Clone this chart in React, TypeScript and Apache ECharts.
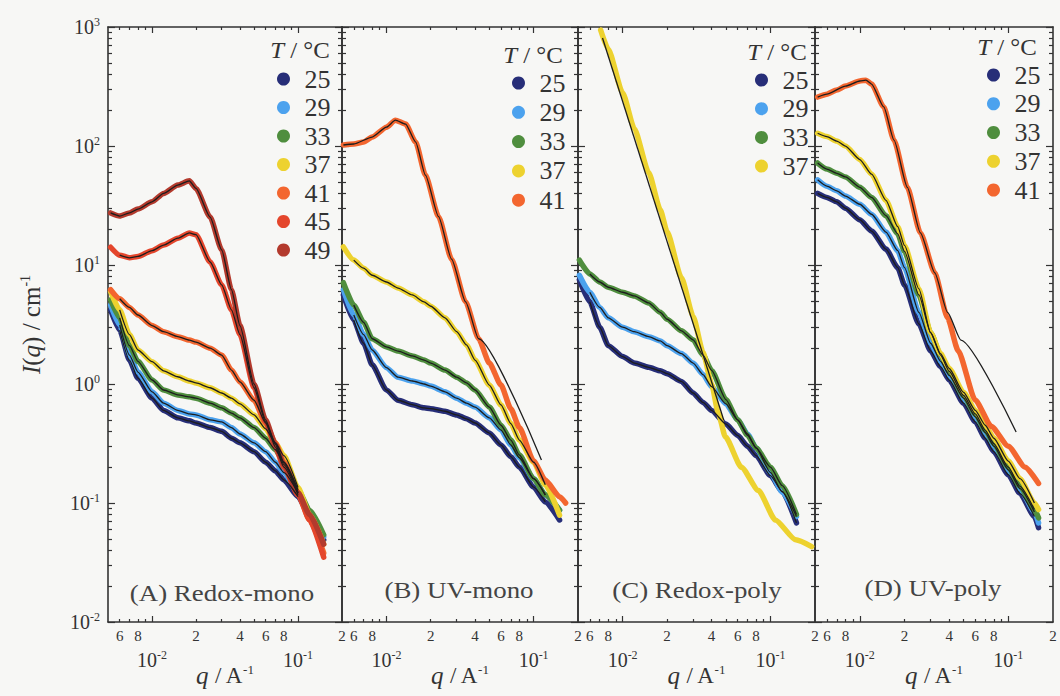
import React, { useEffect, useRef } from 'react';
import * as echarts from 'echarts';

// ---------------- data (q in 1/A, I(q) in 1/cm) ----------------
const qA = [0.0052, 0.006, 0.007, 0.008, 0.01, 0.012, 0.015, 0.018, 0.02, 0.025, 0.03, 0.035, 0.04, 0.05, 0.06, 0.07, 0.08, 0.1, 0.12, 0.15];
const A25 = [4.2, 2.84, 1.59, 1.12, 0.76, 0.6, 0.52, 0.49, 0.47, 0.43, 0.4, 0.35, 0.32, 0.27, 0.22, 0.186, 0.156, 0.113, 0.079, 0.049];
const A29 = [4.6, 3.13, 1.75, 1.26, 0.86, 0.69, 0.6, 0.56, 0.55, 0.5, 0.48, 0.43, 0.38, 0.32, 0.27, 0.22, 0.18, 0.122, 0.083, 0.052];
const A33 = [5.1, 3.6, 2.1, 1.55, 1.08, 0.89, 0.81, 0.78, 0.76, 0.69, 0.63, 0.57, 0.52, 0.43, 0.35, 0.28, 0.22, 0.129, 0.087, 0.054];
const A37 = [6.0, 4.2, 2.6, 1.93, 1.54, 1.29, 1.15, 1.06, 1.02, 0.93, 0.84, 0.76, 0.68, 0.55, 0.42, 0.32, 0.25, 0.135, 0.08, 0.045];
const A41 = [6.2, 5.2, 4.4, 3.8, 3.1, 2.75, 2.5, 2.34, 2.25, 2.0, 1.75, 1.31, 1.04, 0.73, 0.47, 0.32, 0.22, 0.122, 0.072, 0.038];
const A45 = [14.1, 12.1, 11.5, 11.8, 13.2, 14.7, 16.8, 18.6, 18.0, 10.6, 6.8, 4.2, 2.6, 0.93, 0.48, 0.295, 0.2, 0.117, 0.072, 0.035];
const A49 = [27.4, 25.8, 27.4, 29.5, 34, 40, 47, 51, 44, 25.3, 13.4, 6.2, 3.1, 1.0, 0.5, 0.31, 0.21, 0.122, 0.08, 0.045];

const qB = [0.0051, 0.006, 0.007, 0.008, 0.01, 0.012, 0.015, 0.018, 0.02, 0.025, 0.03, 0.035, 0.04, 0.05, 0.06, 0.07, 0.08, 0.1, 0.12, 0.15];
const B25 = [5.6, 3.45, 2.2, 1.45, 0.89, 0.73, 0.67, 0.63, 0.62, 0.59, 0.55, 0.51, 0.47, 0.387, 0.307, 0.245, 0.2, 0.136, 0.102, 0.072];
const B29 = [6.2, 3.8, 2.6, 1.93, 1.37, 1.14, 1.06, 1.0, 0.96, 0.86, 0.76, 0.69, 0.64, 0.52, 0.41, 0.307, 0.24, 0.16, 0.117, 0.087];
const B33 = [7.1, 4.6, 3.3, 2.4, 2.05, 1.89, 1.72, 1.59, 1.5, 1.31, 1.14, 1.02, 0.89, 0.64, 0.45, 0.338, 0.253, 0.16, 0.117, 0.087];
const B37 = [14.2, 11.0, 9.4, 8.2, 7.2, 6.4, 5.6, 4.9, 4.5, 3.6, 2.75, 2.13, 1.59, 0.98, 0.667, 0.465, 0.338, 0.22, 0.142, 0.079];
const qB41 = [0.0051, 0.006, 0.007, 0.008, 0.01, 0.0115, 0.0135, 0.0158, 0.0184, 0.0226, 0.0277, 0.0345, 0.0423, 0.05, 0.06, 0.07, 0.08, 0.1, 0.12, 0.15, 0.165];
const B41 = [102, 104, 108, 119, 144, 165, 153, 108, 57, 25.5, 11.2, 4.9, 2.4, 1.5, 0.98, 0.62, 0.43, 0.225, 0.156, 0.113, 0.1];
const qB41fit = [0.0051, 0.006, 0.008, 0.01, 0.0115, 0.0135, 0.0158, 0.0184, 0.0226, 0.0277, 0.0345, 0.0423, 0.113];
const B41fit = [102, 104, 119, 144, 165, 153, 108, 57, 25.5, 11.2, 4.9, 2.4, 0.23];

const qC = [0.0051, 0.006, 0.007, 0.008, 0.01, 0.012, 0.015, 0.018, 0.02, 0.025, 0.03, 0.035, 0.04, 0.05, 0.06, 0.07, 0.08, 0.1, 0.12, 0.15];
const C25 = [7.5, 4.9, 3.0, 2.1, 1.7, 1.5, 1.38, 1.29, 1.22, 1.05, 0.84, 0.7, 0.6, 0.46, 0.37, 0.3, 0.25, 0.17, 0.125, 0.068];
const C29 = [8.2, 5.9, 4.4, 3.6, 3.0, 2.75, 2.5, 2.3, 2.1, 1.8, 1.5, 1.2, 0.95, 0.68, 0.5, 0.38, 0.29, 0.18, 0.124, 0.077];
const C33 = [11.0, 8.4, 7.2, 6.5, 5.9, 5.5, 4.8, 4.0, 3.5, 2.8, 2.35, 1.75, 1.3, 0.74, 0.5, 0.37, 0.29, 0.2, 0.14, 0.08];
const qC37 = [0.0071, 0.008, 0.01, 0.012, 0.015, 0.018, 0.02, 0.025, 0.03, 0.035, 0.04, 0.0443, 0.0495, 0.0636, 0.083, 0.108, 0.148, 0.19];
const C37 = [944, 650, 280, 140, 60, 29, 19, 7.8, 3.7, 1.85, 1.0, 0.574, 0.36, 0.2, 0.127, 0.072, 0.049, 0.043];
const qC37fit = [0.00731, 0.0483];
const C37fit = [809, 0.498];

const qD = [0.0052, 0.006, 0.007, 0.008, 0.01, 0.012, 0.015, 0.018, 0.02, 0.025, 0.03, 0.035, 0.04, 0.05, 0.06, 0.07, 0.08, 0.1, 0.12, 0.15, 0.16];
const D25 = [40, 37, 34, 30, 24, 19.3, 13.6, 9.5, 6.8, 3.2, 1.9, 1.4, 1.08, 0.69, 0.48, 0.35, 0.27, 0.173, 0.12, 0.077, 0.062];
const D29 = [52, 46, 42, 38, 32.4, 26.7, 18.9, 13.2, 9.5, 4.0, 2.2, 1.55, 1.18, 0.76, 0.53, 0.39, 0.3, 0.19, 0.132, 0.084, 0.068];
const D33 = [72, 64, 59, 55, 45, 37, 26, 18.3, 13, 5.6, 2.7, 1.75, 1.28, 0.8, 0.56, 0.41, 0.315, 0.2, 0.138, 0.088, 0.075];
const D37 = [128, 120, 110, 100, 77, 58, 35, 21, 14.6, 6.3, 2.7, 1.8, 1.35, 0.85, 0.6, 0.45, 0.35, 0.225, 0.16, 0.1, 0.088];
const qD41 = [0.0052, 0.006, 0.007, 0.008, 0.01, 0.011, 0.012, 0.0145, 0.017, 0.0209, 0.0256, 0.032, 0.039, 0.046, 0.06, 0.077, 0.1, 0.13, 0.16];
const D41 = [258, 273, 296, 319, 352, 358, 332, 213, 112, 45, 18.6, 8.6, 3.6, 1.9, 0.73, 0.44, 0.3, 0.2, 0.146];
const qD41fit = [0.0052, 0.006, 0.008, 0.01, 0.011, 0.012, 0.0145, 0.017, 0.0209, 0.0256, 0.032, 0.039, 0.048, 0.113];
const D41fit = [258, 273, 319, 352, 358, 332, 213, 112, 45, 18.6, 8.6, 4.0, 2.34, 0.395];

// tick / label values
const X_MINOR = [0.006, 0.007, 0.008, 0.009, 0.02, 0.03, 0.04, 0.05, 0.06, 0.07, 0.08, 0.09];
const X_MAJOR = [0.01, 0.1];
const X_DIGITS = [0.006, 0.008, 0.02, 0.04, 0.06, 0.08, 0.2];
const Y_MAJOR = [0.01, 0.1, 1, 10, 100, 1000];
const Y_MINOR_MANTISSA = [2, 3, 4, 5, 6, 7, 8, 9];
const Y_DECADES = [0.01, 0.1, 1, 10, 100];
const PANEL_LABELS = ['(A) Redox-mono', '(B) UV-mono', '(C) Redox-poly', '(D) UV-poly'];

const COLORS: Record<string, string> = {
  '25': '#272e78',
  '29': '#4ca2ee',
  '33': '#4f8e3e',
  '37': '#edd22f',
  '41': '#f3662f',
  '45': '#e4462c',
  '49': '#b33a2d',
};

type S = { t: string; q: number[]; v: number[]; fit?: [number, number]; fq?: number[]; fv?: number[] };

const PANELS: S[][] = [
  [
    { t: '25', q: qA, v: A25, fit: [0.006, 0.1] },
    { t: '29', q: qA, v: A29, fit: [0.006, 0.1] },
    { t: '33', q: qA, v: A33, fit: [0.006, 0.1] },
    { t: '37', q: qA, v: A37, fit: [0.006, 0.1] },
    { t: '41', q: qA, v: A41, fit: [0.006, 0.1] },
    { t: '45', q: qA, v: A45, fit: [0.006, 0.1] },
    { t: '49', q: qA, v: A49, fit: [0.005, 0.1] },
  ],
  [
    { t: '25', q: qB, v: B25, fit: [0.006, 0.12] },
    { t: '29', q: qB, v: B29, fit: [0.006, 0.12] },
    { t: '33', q: qB, v: B33, fit: [0.006, 0.12] },
    { t: '37', q: qB, v: B37, fit: [0.006, 0.12] },
    { t: '41', q: qB41, v: B41, fq: qB41fit, fv: B41fit },
  ],
  [
    { t: '25', q: qC, v: C25, fit: [0.006, 0.15] },
    { t: '29', q: qC, v: C29, fit: [0.006, 0.15] },
    { t: '33', q: qC, v: C33, fit: [0.006, 0.15] },
    { t: '37', q: qC37, v: C37, fq: qC37fit, fv: C37fit },
  ],
  [
    { t: '25', q: qD, v: D25, fit: [0.005, 0.15] },
    { t: '29', q: qD, v: D29, fit: [0.005, 0.15] },
    { t: '33', q: qD, v: D33, fit: [0.005, 0.15] },
    { t: '37', q: qD, v: D37, fit: [0.005, 0.15] },
    { t: '41', q: qD41, v: D41, fq: qD41fit, fv: D41fit },
  ],
];

// ---------------- layout ----------------
const FONT = "'Liberation Serif', 'Times New Roman', serif";
const INK = '#333333';
const BG = '#f7f7f5';
const GRID_LEFT = [108, 342, 578, 815];
const GRID_W = [234, 236, 237, 238];
const GRID_TOP = 27;
const GRID_H = 595;
const X_MIN = 0.00499;
const X_MAX = 0.2002;
const Y_MIN = 0.00999;
const Y_MAX = 1001;
const LEGEND_POS = [[277, 66, 2.5], [512, 70, 3.3], [755, 67, 2.7], [987, 62, 2.75]];
const LEGEND_TITLE_POS = [[300, 50], [533, 55], [777, 52], [1007, 47]];
const LABEL_POS = [[222, 593], [459, 590], [697, 590], [933, 588]];

const pts = (q: number[], v: number[]) => q.map((x, i) => [x, v[i]]);

export default function App() {
  const ref = useRef<HTMLDivElement>(null);

  useEffect(() => {
    if (!ref.current) return;
    const chart = echarts.init(ref.current, null, { renderer: 'svg' });

    const yMinor: number[] = [];
    Y_DECADES.forEach((d) => Y_MINOR_MANTISSA.forEach((m) => yMinor.push(+(m * d).toPrecision(3))));

    const lineStyle = { color: INK, width: 1.6 };
    const tickStyle = { color: INK, width: 1.2 };
    const supRich = {
      b: { fontSize: 20, fontFamily: FONT, color: INK, lineHeight: 22 },
      s: { fontSize: 12, fontFamily: FONT, color: INK, lineHeight: 13, verticalAlign: 'top' },
    };
    const pow10 = (v: number) => `{b|10}{s|${Math.round(Math.log10(v))}}`;
    const digit = (v: number) => String(Math.round(v / Math.pow(10, Math.floor(Math.log10(v) + 1e-9))));

    const grids: any[] = [];
    const xAxes: any[] = [];
    const yAxes: any[] = [];
    const series: any[] = [];
    const legends: any[] = [];
    const graphics: any[] = [];

    PANELS.forEach((panel, i) => {
      grids.push({ left: GRID_LEFT[i], top: GRID_TOP, width: GRID_W[i], height: GRID_H, outerBoundsMode: 'none', containLabel: false });
      const xb = (extra: any) => ({
        type: 'log', logBase: 10, gridIndex: i, min: X_MIN, max: X_MAX,
        splitLine: { show: false }, silent: true, ...extra,
      });
      xAxes.push(xb({
        position: 'bottom',
        axisLine: { show: true, onZero: false, lineStyle },
        axisTick: { show: true, inside: true, length: 3, customValues: X_MINOR, lineStyle: tickStyle },
        axisLabel: {
          show: true, customValues: X_DIGITS, formatter: digit, margin: 6, fontSize: 15,
          fontFamily: FONT, color: INK, showMinLabel: true, showMaxLabel: true,
        },
      }));
      xAxes.push(xb({
        position: 'bottom',
        axisLine: { show: false, onZero: false },
        axisTick: { show: true, inside: true, length: 6, customValues: X_MAJOR, lineStyle: tickStyle },
        axisLabel: { show: true, customValues: X_MAJOR, formatter: pow10, margin: 27, rich: supRich, showMinLabel: true, showMaxLabel: true },
        name: '{i|q}{n| / A}{s|-1}',
        nameLocation: 'middle',
        nameGap: 41,
        nameMoveOverlap: false,
        nameTextStyle: {
          fontFamily: FONT, fontSize: 22, color: INK,
          rich: {
            i: { fontFamily: FONT, fontSize: 25, fontStyle: 'italic', color: INK, lineHeight: 24 },
            n: { fontFamily: FONT, fontSize: 23, color: INK, lineHeight: 24 },
            s: { fontFamily: FONT, fontSize: 13, color: INK, lineHeight: 13, verticalAlign: 'top' },
          },
        },
      }));
      xAxes.push(xb({
        position: 'top',
        axisLine: { show: true, onZero: false, lineStyle },
        axisTick: { show: true, inside: true, length: 3, customValues: X_MINOR, lineStyle: tickStyle },
        axisLabel: { show: false },
      }));
      xAxes.push(xb({
        position: 'top',
        axisLine: { show: false, onZero: false },
        axisTick: { show: true, inside: true, length: 6, customValues: X_MAJOR, lineStyle: tickStyle },
        axisLabel: { show: false },
      }));

      const yb = (extra: any) => ({
        type: 'log', logBase: 10, gridIndex: i, min: Y_MIN, max: Y_MAX,
        splitLine: { show: false }, silent: true, ...extra,
      });
      yAxes.push(yb({
        position: 'left',
        axisLine: { show: true, onZero: false, lineStyle },
        axisTick: { show: true, inside: true, length: 7, customValues: Y_MAJOR, lineStyle: tickStyle },
        axisLabel: i === 0
          ? { show: true, customValues: Y_MAJOR, formatter: pow10, margin: 8, rich: supRich, showMinLabel: true, showMaxLabel: true }
          : { show: false },
        ...(i === 0
          ? {
              name: '{i|I}{n|(}{i|q}{n|) / cm}{s|-1}',
              nameLocation: 'middle',
              nameGap: 64,
              nameMoveOverlap: false,
              nameTextStyle: {
                fontFamily: FONT, fontSize: 24, color: INK,
                rich: {
                  i: { fontFamily: FONT, fontSize: 25, fontStyle: 'italic', color: INK, lineHeight: 26 },
                  n: { fontFamily: FONT, fontSize: 25, color: INK, lineHeight: 26 },
                  s: { fontFamily: FONT, fontSize: 14, color: INK, lineHeight: 14, verticalAlign: 'top' },
                },
              },
            }
          : {}),
      }));
      yAxes.push(yb({
        position: 'left',
        axisLine: { show: false, onZero: false },
        axisTick: { show: true, inside: true, length: 4, customValues: yMinor, lineStyle: tickStyle },
        axisLabel: { show: false },
      }));
      yAxes.push(yb({
        position: 'right',
        axisLine: { show: true, onZero: false, lineStyle },
        axisTick: { show: true, inside: true, length: 7, customValues: Y_MAJOR, lineStyle: tickStyle },
        axisLabel: { show: false },
      }));
      yAxes.push(yb({
        position: 'right',
        axisLine: { show: false, onZero: false },
        axisTick: { show: true, inside: true, length: 4, customValues: yMinor, lineStyle: tickStyle },
        axisLabel: { show: false },
      }));

      panel.forEach((s) => {
        const color = COLORS[s.t];
        series.push({
          type: 'line', name: s.t, xAxisIndex: 4 * i, yAxisIndex: 4 * i,
          data: pts(s.q, s.v), showSymbol: false, symbol: 'circle', smooth: 0.2, smoothMonotone: 'x',
          lineStyle: { color, width: 5.5, cap: 'round', join: 'round' },
          itemStyle: { color, borderWidth: 0 }, z: 2, silent: true,
        });
      });
      panel.forEach((s) => {
        const fitData = s.fq
          ? pts(s.fq, s.fv as number[])
          : pts(s.q, s.v).filter((p) => p[0] >= (s.fit as number[])[0] && p[0] <= (s.fit as number[])[1]);
        series.push({
          type: 'line', name: `fit ${i} ${s.t}`, xAxisIndex: 4 * i, yAxisIndex: 4 * i,
          data: fitData, showSymbol: false, smooth: s.fq && s.fq.length === 2 ? false : 0.2, smoothMonotone: 'x',
          lineStyle: { color: '#1d1d1d', width: 1.3 }, z: 3, silent: true,
        });
      });

      const [lx, ly, gap] = LEGEND_POS[i];
      legends.push({
        left: lx, top: ly, orient: 'vertical', padding: 0, itemGap: gap,
        itemWidth: 32, itemHeight: 13, selectedMode: false, icon: 'circle',
        textStyle: { fontFamily: FONT, fontSize: 26, color: INK, lineHeight: 26 },
        data: panel.map((s) => ({ name: s.t, icon: 'circle', itemStyle: { color: COLORS[s.t], borderWidth: 0 } })),
      });

      graphics.push({
        type: 'text', x: LEGEND_TITLE_POS[i][0], y: LEGEND_TITLE_POS[i][1], scaleX: 1.08, silent: true,
        style: {
          text: '{i|T} / °C', align: 'center', verticalAlign: 'middle',
          fontFamily: FONT, fontSize: 23, fill: INK,
          rich: { i: { fontFamily: FONT, fontSize: 23, fontStyle: 'italic', fill: INK } },
        },
      });
      graphics.push({
        type: 'text', x: LABEL_POS[i][0], y: LABEL_POS[i][1], scaleX: 1.12, silent: true,
        style: {
          text: PANEL_LABELS[i], align: 'center', verticalAlign: 'middle',
          fontFamily: FONT, fontSize: 24, fill: '#444444',
        },
      });
    });

    chart.setOption({
      animation: false,
      backgroundColor: BG,
      grid: grids,
      xAxis: xAxes,
      yAxis: yAxes,
      series,
      legend: legends,
      graphic: graphics,
    });

    return () => chart.dispose();
  }, []);

  return (
    <div
      ref={ref}
      style={{ position: 'fixed', left: 0, top: 0, width: 1060, height: 696, background: BG }}
    />
  );
}
